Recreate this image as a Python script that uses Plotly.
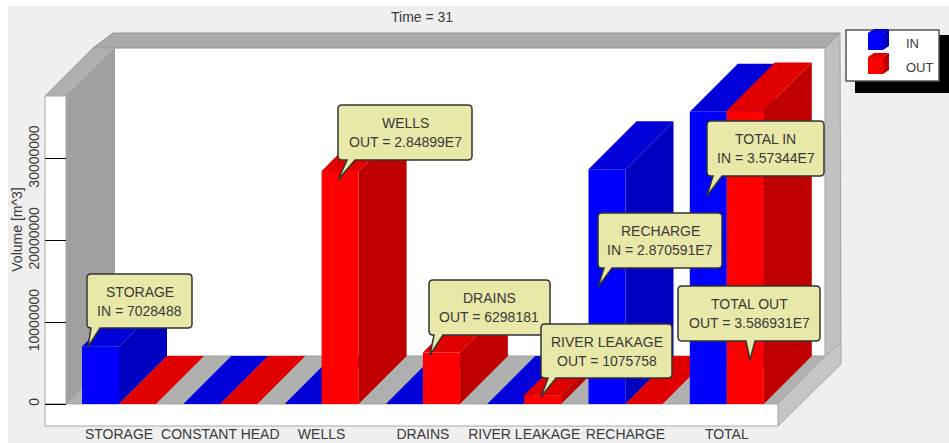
import plotly.graph_objects as go

# ---------- data ----------
categories = ["STORAGE", "CONSTANT HEAD", "WELLS", "DRAINS", "RIVER LEAKAGE", "RECHARGE", "TOTAL"]
in_values = [7028488, 0, 0, 0, 0, 28705910, 35734400]
out_values = [0, 0, 28489900, 6298181, 1075758, 0, 35869310]
y_ticks = [0, 10000000, 20000000, 30000000]
y_tick_labels = ["0", "10000000", "20000000", "30000000"]
callout_titles = ["STORAGE", "WELLS", "DRAINS", "RIVER LEAKAGE", "RECHARGE", "TOTAL OUT", "TOTAL IN"]
callout_values = ["IN = 7028488", "OUT = 2.84899E7", "OUT = 6298181", "OUT = 1075758",
                  "IN = 2.870591E7", "OUT = 3.586931E7", "IN = 3.57344E7"]

# ---------- geometry (pixels of the 949x443 page) ----------
W, H = 949, 443
L, R, T, B = 45, 841, 33, 426          # plot frame
ZERO_PX = 404                          # value 0
PX_PER_UNIT_Y = 81.8 / 1e7
SLOT = 101.3                           # px per category
FIRST_CENTER = 119.0
BAR_W = 37
DEPTH = 48

X0 = (L - FIRST_CENTER) / SLOT
X1 = (R - FIRST_CENTER) / SLOT
Y0 = -(B - ZERO_PX) / PX_PER_UNIT_Y
Y1 = (ZERO_PX - T) / PX_PER_UNIT_Y
dx = DEPTH / SLOT
dy = DEPTH / PX_PER_UNIT_Y
bw = BAR_W / SLOT

px = lambda v: (v - L) / (R - L)
py = lambda v: (B - v) / (B - T)
FONT = "Liberation Sans"
TXT = "#3a3a3a"


def poly(points, fill, line=None, width=0, layer="below"):
    d = "M " + " L ".join(f"{px(a):.5f},{py(b):.5f}" for a, b in points) + " Z"
    return dict(type="path", path=d, xref="paper", yref="paper", fillcolor=fill, layer=layer,
                line=dict(color=line or fill, width=width))


shapes = [
    poly([(8, 6), (W, 6), (W, H), (8, H)], "#efefef"),
    poly([(115, 48), (825, 48), (825, 356), (115, 356)], "#ffffff"),
    poly([(93, 48), (113, 33), (840, 33), (825, 48)], "#aaaaaa", "#909090", 1),
    poly([(45, 96), (93, 48), (115, 48), (66, 96)], "#b0b0b0", "#a0a0a0", 1),
    poly([(66, 96), (115, 48), (115, 356), (66, 404)], "#a0a0a0"),
    poly([(825, 48), (840, 33), (841, 343), (825, 356)], "#c0c0c0", "#a0a0a0", 1),
    poly([(66, 404), (115, 356), (825, 356), (778, 404)], "#b0b0b0", "#a0a0a0", 1),
    poly([(778, 404), (825, 356), (841, 343), (841, 364), (778, 426)], "#c6c6c6", "#a8a8a8", 1),
    poly([(45, 96), (66, 96), (66, 404), (45, 404)], "#ffffff", "#a8a8a8", 1),
    poly([(45, 404), (778, 404), (778, 426), (45, 426)], "#ffffff", "#a8a8a8", 1),
    # legend shadow + box
    poly([(855, 35), (W, 35), (W, 93), (855, 93)], "#000000", layer="above"),
    poly([(846, 30), (939, 30), (939, 81), (846, 81)], "#ffffff", "#555555", 1.5, "above"),
]


def cube(x0, x1, y0, y1, ox, oy, front, side, top):
    return [
        poly([(x1, y0), (x1 + ox, y0 - oy), (x1 + ox, y1 - oy), (x1, y1)], side, layer="above"),
        poly([(x0, y0), (x0 + ox, y0 - oy), (x1 + ox, y0 - oy), (x1, y0)], top, layer="above"),
        poly([(x0, y0), (x1, y0), (x1, y1), (x0, y1)], front, layer="above"),
    ]


shapes += cube(868, 883, 33, 50, 6, 4, "#0000ff", "#0000c0", "#0000d8")
shapes += cube(868, 883, 57, 74, 6, 4, "#ff0000", "#c00000", "#e00000")

# callout boxes: x0, y0, x1, y1, tail base a, tail base b, tip x, tip y
callouts = [
    (87, 274, 192, 328, 91, 100, 88, 347),
    (338, 105, 472, 160, 347, 355, 338, 180),
    (429, 280, 550, 335, 434, 443, 430, 355),
    (541, 324, 672, 378, 548, 556, 541, 397),
    (598, 213, 722, 268, 604, 612, 598, 287),
    (678, 286, 820, 341, 746, 755, 750, 360),
    (707, 121, 824, 176, 713, 722, 707, 196),
]
annotations = []


def label(x, y, text, anchor="center", size=14):
    annotations.append(dict(x=px(x), y=py(y), xref="paper", yref="paper", text=text, showarrow=False,
                            xanchor=anchor, yanchor="middle", font=dict(family=FONT, size=size, color=TXT)))


for (a0, b0, a1, b1, ta, tb, tx, ty), t, v in zip(callouts, callout_titles, callout_values):
    r = 4
    pts = [
        f"M {px(a0 + r):.5f},{py(b0):.5f}", f"L {px(a1 - r):.5f},{py(b0):.5f}",
        f"Q {px(a1):.5f},{py(b0):.5f} {px(a1):.5f},{py(b0 + r):.5f}", f"L {px(a1):.5f},{py(b1 - r):.5f}",
        f"Q {px(a1):.5f},{py(b1):.5f} {px(a1 - r):.5f},{py(b1):.5f}", f"L {px(tb):.5f},{py(b1):.5f}",
        f"L {px(tx):.5f},{py(ty):.5f}", f"L {px(ta):.5f},{py(b1):.5f}", f"L {px(a0 + r):.5f},{py(b1):.5f}",
        f"Q {px(a0):.5f},{py(b1):.5f} {px(a0):.5f},{py(b1 - r):.5f}", f"L {px(a0):.5f},{py(b0 + r):.5f}",
        f"Q {px(a0):.5f},{py(b0):.5f} {px(a0 + r):.5f},{py(b0):.5f} Z",
    ]
    shapes.append(dict(type="path", path=" ".join(pts), xref="paper", yref="paper", layer="above",
                       fillcolor="#e8e8a8", line=dict(color="#333333", width=1.5)))
    mid = (a0 + a1) / 2
    label(mid, b0 + 18, t)
    label(mid, b0 + 37, v)

label(904, 43, "IN", "left", 13)
label(904, 67, "OUT", "left", 13)
label(421.5, 17, "Time = 31")

fig = go.Figure()

# side and top faces, painted left to right so nearer faces cover farther ones
SERIES = [("IN", in_values, "#0000ff", "#0000c0", "#0000d8", -bw),
          ("OUT", out_values, "#ff0000", "#c00000", "#e00000", 0.0)]
for i, _ in enumerate(categories):
    for name, vals, front, side, top, off in SERIES:
        a, b, v = i + off, i + off + bw, vals[i]
        if v > 0:
            fig.add_trace(go.Scatter(x=[b, b + dx, b + dx, b, b], y=[0, dy, v + dy, v, 0], mode="lines",
                                     fill="toself", fillcolor=side, line=dict(width=0, color=side),
                                     hoverinfo="skip", showlegend=False, xaxis="x", yaxis="y"))
        fig.add_trace(go.Scatter(x=[a, b, b + dx, a + dx, a], y=[v, v, v + dy, v + dy, v], mode="lines",
                                 fill="toself", fillcolor=top, line=dict(width=0, color=top),
                                 hoverinfo="skip", showlegend=False, xaxis="x", yaxis="y"))

# front faces: real bars on an overlaid pair of axes, above all the deeper faces
for name, vals, front, side, top, off in SERIES:
    fig.add_trace(go.Bar(x=categories, y=vals, name=name, marker=dict(color=front, line=dict(width=0)),
                         showlegend=False, xaxis="x2", yaxis="y2"))

fig.update_layout(
    template="none",
    width=W, height=H, autosize=False,
    margin=dict(l=L, r=W - R, t=T, b=H - B, pad=0),
    paper_bgcolor="#ffffff", plot_bgcolor="rgba(0,0,0,0)",
    barmode="group", bargap=1 - 2 * bw, bargroupgap=0,
    showlegend=False, shapes=shapes, annotations=annotations,
    font=dict(family=FONT, size=14, color=TXT),
    xaxis=dict(range=[X0, X1], visible=False, fixedrange=True, automargin=False),
    xaxis2=dict(type="category", categoryorder="array", categoryarray=categories, range=[X0, X1],
                overlaying="x", anchor="y2", side="bottom", showgrid=False, showline=False, zeroline=False,
                ticks="", tickfont=dict(family=FONT, size=14, color=TXT), tickangle=0, fixedrange=True,
                automargin=False, ticklabelstandoff=-2),
    yaxis=dict(range=[Y0, Y1], tickmode="array", tickvals=y_ticks, ticktext=y_tick_labels, tickangle=-90,
               ticks="inside", ticklen=21, tickwidth=1.2, tickcolor="#000000", showgrid=False, zeroline=False,
               showline=False, tickfont=dict(family=FONT, size=14, color=TXT), fixedrange=True, automargin=False,
               ticklabelstandoff=2,
               title=dict(text="Volume [m^3]", standoff=0, font=dict(family=FONT, size=14, color=TXT))),
    yaxis2=dict(range=[Y0, Y1], overlaying="y", anchor="x2", visible=False, fixedrange=True, automargin=False),
)

fig.write_html("out.html", config=dict(displayModeBar=False),
               post_script="document.body.style.margin='0';document.documentElement.style.overflow='hidden';")
